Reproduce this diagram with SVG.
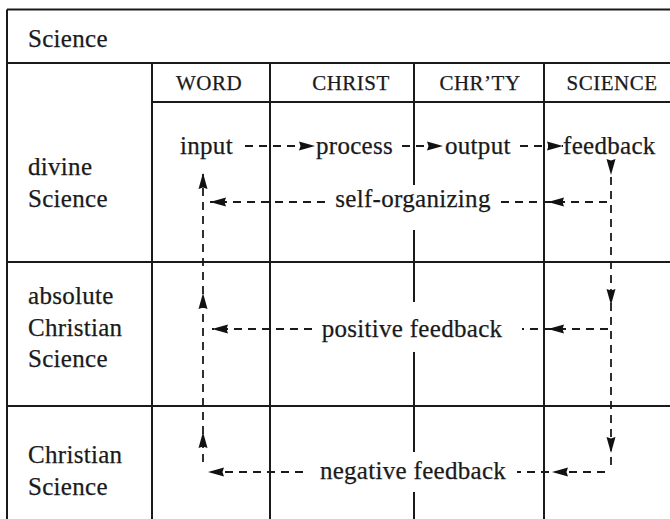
<svg xmlns="http://www.w3.org/2000/svg" width="670" height="519" viewBox="0 0 670 519">
<defs>
<style>
.grid{stroke:#1a1a1a;stroke-width:2;fill:none}
.t{font-family:"Liberation Serif","Times New Roman",serif;font-size:25px;letter-spacing:0.3px;fill:#1a1a1a;stroke:#1a1a1a;stroke-width:0.25}
.h{font-family:"Liberation Serif","Times New Roman",serif;font-size:21px;letter-spacing:0.5px;fill:#1a1a1a;stroke:#1a1a1a;stroke-width:0.25;text-anchor:middle}
.m{text-anchor:middle}
.c{stroke:#1a1a1a;stroke-width:1.8;fill:none;stroke-dasharray:8 6}
</style>
<marker id="ah" viewBox="0 0 16 10" refX="16" refY="5" markerWidth="16" markerHeight="10" orient="auto" markerUnits="userSpaceOnUse">
<path d="M0,0.5 L16,5 L0,9.5 L1.5,5 Z" fill="#111"/>
</marker>
</defs>
<rect width="670" height="519" fill="#fff"/>
<g id="table" class="grid">
<path d="M7,9.5 H670 M7,9.5 V519 M7,63 H670 M152,102 H670 M7,262 H670 M7,406 H670"/>
<path d="M152,63 V519 M270,63 V519 M544,63 V519"/>
<path d="M414,63 V185 M414,230 V302 M414,352 V452 M414,492 V519"/>
</g>
<g id="title"><text class="t" x="28" y="47">Science</text></g>
<g id="headers">
<text class="h" x="209" y="90">WORD</text>
<text class="h" x="351" y="90">CHRIST</text>
<text class="h" x="480" y="90">CHR’TY</text>
<text class="h" x="612" y="90">SCIENCE</text>
</g>
<g id="row-divine"><text class="t" x="28" y="175">divine</text><text class="t" x="28" y="207">Science</text></g>
<g id="row-absolute"><text class="t" x="28" y="304">absolute</text><text class="t" x="28" y="336">Christian</text><text class="t" x="28" y="367">Science</text></g>
<g id="row-christian"><text class="t" x="28" y="463">Christian</text><text class="t" x="28" y="495">Science</text></g>
<g id="node-input"><text class="t" x="180" y="154" letter-spacing="1">input</text></g>
<g id="node-process"><text class="t" x="316" y="154">process</text></g>
<g id="node-output"><text class="t" x="445" y="154" letter-spacing="1.8">output</text></g>
<g id="node-feedback"><text class="t" x="563" y="154">feedback</text></g>
<g id="label-self"><text class="t m" x="413" y="207">self-organizing</text></g>
<g id="label-positive"><text class="t m" x="412" y="337">positive feedback</text></g>
<g id="label-negative"><text class="t m" x="413" y="479">negative feedback</text></g>
<g id="connectors">
<path class="c" d="M245,146 L315,146" marker-end="url(#ah)"/>
<path class="c" d="M402,146 L443,146" marker-end="url(#ah)"/>
<path class="c" d="M520,146 L563,146" marker-end="url(#ah)"/>
<path class="c" d="M611,163 L611,175 L611,305 L611,453 L611,467" marker-mid="url(#ah)"/>
<path class="c" d="M203,462 L203,432 L203,293 L203,173" marker-mid="url(#ah)" marker-end="url(#ah)"/>
<path class="c" d="M607,202 L548,202 L498,202" marker-mid="url(#ah)"/>
<path class="c" d="M325,202 L210,202" marker-end="url(#ah)"/>
<path class="c" d="M608,329 L548,329 L522,329" marker-mid="url(#ah)"/>
<path class="c" d="M312,329 L212,329" marker-end="url(#ah)"/>
<path class="c" d="M605,472 L552,472 L517,472" marker-mid="url(#ah)"/>
<path class="c" d="M303,472 L208,472" marker-end="url(#ah)"/>
</g>
</svg>
